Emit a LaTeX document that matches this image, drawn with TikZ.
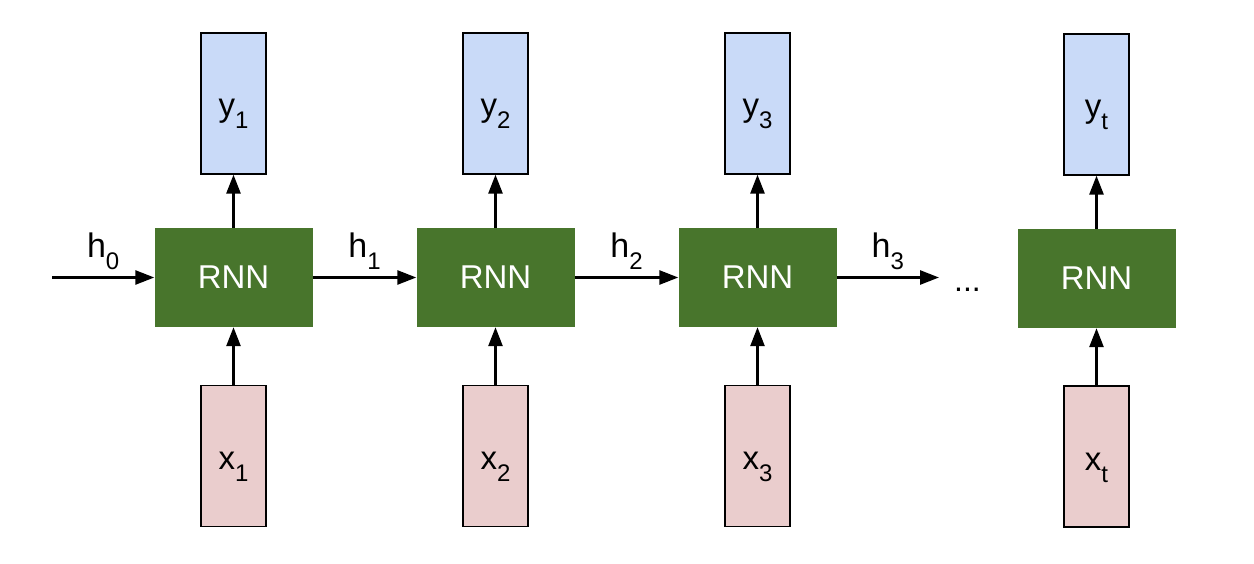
\documentclass[tikz,border=0pt]{standalone}
\usepackage{fontspec}
\setmainfont{Liberation Sans}
\usetikzlibrary{arrows.meta}
\definecolor{rnngreen}{HTML}{48752C}
\definecolor{outblue}{HTML}{C9DAF8}
\definecolor{inpink}{HTML}{EACDCD}
\newcommand\lowsub[1]{\raisebox{-12pt}{\fontsize{24}{24}\selectfont #1}}
\begin{document}
\begin{tikzpicture}[x=1pt,y=-1pt,
  rnnbox/.style={fill=rnngreen, minimum width=158pt, minimum height=99pt, inner sep=0pt, text=white, font=\fontsize{33}{38}\selectfont},
  vbox/.style={draw=black, line width=1.3pt, minimum width=65pt, minimum height=141pt, inner sep=0pt, text height=27pt, text depth=0pt, font=\fontsize{33}{38}\selectfont},
  outbox/.style={vbox, fill=outblue},
  inbox/.style={vbox, fill=inpink},
  conn/.style={line width=2.7pt, -{Triangle[length=19pt,width=14pt]}},
  hlabel/.style={anchor=base, yshift=20pt, inner sep=0pt, font=\fontsize{34}{40}\selectfont}]
\useasboundingbox (0,0) rectangle (1254,564);
\fill[white] (0,0) rectangle (1254,564);

% RNN cells
\node[rnnbox] (r1) at (233.5,277.5) {RNN};
\node[rnnbox] (r2) at (495.5,277.5) {RNN};
\node[rnnbox] (r3) at (757.5,277.5) {RNN};
\node[rnnbox] (r4) at (1096.5,278.5) {RNN};

% outputs
\node[outbox] (y1) at (233.5,103.5) {y\lowsub{1}};
\node[outbox] (y2) at (495.5,103.5) {y\lowsub{2}};
\node[outbox] (y3) at (757.5,103.5) {y\lowsub{3}};
\node[outbox] (yt) at (1096.5,104.5) {y\lowsub{t}};

% inputs
\node[inbox] (x1) at (233.5,456) {x\lowsub{1}};
\node[inbox] (x2) at (495.5,456) {x\lowsub{2}};
\node[inbox] (x3) at (757.5,456) {x\lowsub{3}};
\node[inbox] (xt) at (1096.5,456.5) {x\lowsub{t}};

% vertical connectors
\foreach \c/\o/\i in {r1/y1/x1, r2/y2/x2, r3/y3/x3, r4/yt/xt}{
  \draw[conn] (\c.north) -- (\o.south);
  \draw[conn] (\i.north) -- (\c.south);
}

% horizontal connectors
\coordinate (h0start) at (52,277.5);
\coordinate (h3end) at (939,277.5);
\draw[conn] (h0start) -- node[hlabel] (lh0) {h\lowsub{0}} (r1.west);
\draw[conn] (r1.east) -- node[hlabel] (lh1) {h\lowsub{1}} (r2.west);
\draw[conn] (r2.east) -- node[hlabel] (lh2) {h\lowsub{2}} (r3.west);
\draw[conn] (r3.east) -- node[hlabel] (lh3) {h\lowsub{3}} (h3end);

\node[anchor=base, inner sep=0pt, font=\fontsize{32}{38}\selectfont] (dots) at (967.5,292) {...};
\end{tikzpicture}
\end{document}
